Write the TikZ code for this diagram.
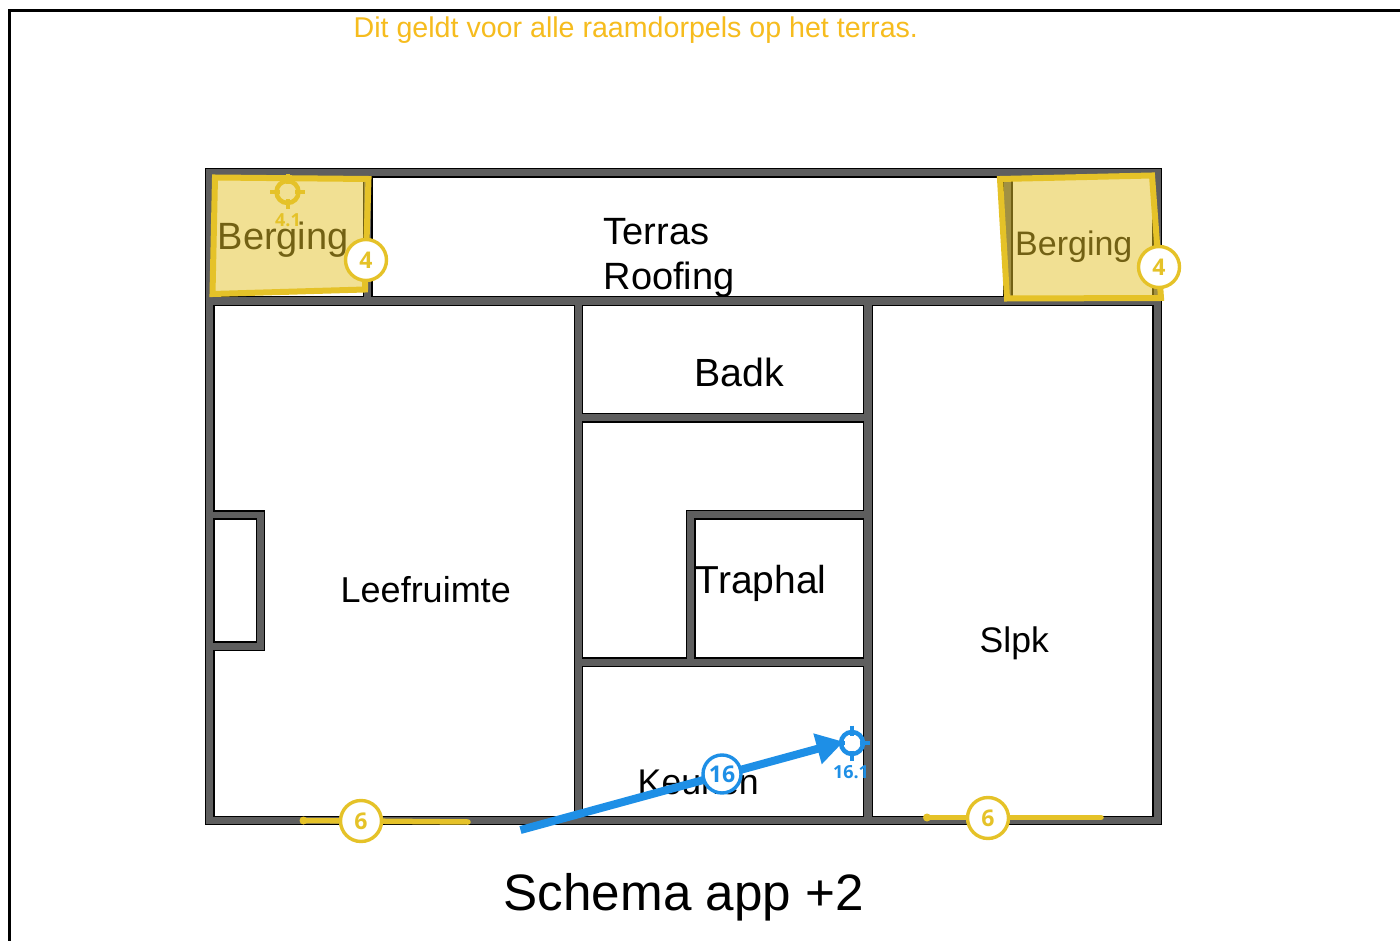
\documentclass[tikz,border=0pt]{standalone}
\usepackage{fontspec}
\setmainfont{Liberation Sans}
\newfontfamily\badgefont{Open Sans}
\usetikzlibrary{arrows.meta}
\definecolor{wallgray}{HTML}{5E5E5E}
\definecolor{markyellow}{HTML}{E5C228}
\definecolor{noteorange}{HTML}{F6BC1E}
\definecolor{markblue}{HTML}{1E8FE6}
\tikzset{
  x=1pt,y=-1pt,
  wall/.style={fill=wallgray,draw=black,line width=1.3pt},
  room/.style={fill=white,draw=black,line width=1.3pt,line join=miter},
  lab/.style={anchor=base west,inner sep=0pt,text=black},
  zone/.style={fill=markyellow,fill opacity=.5,draw=markyellow,draw opacity=1,line width=6pt,line join=miter},
  badge/.style={circle,fill=white,draw=#1,line width=3.4pt,minimum size=41pt,inner sep=0pt,text=#1,font=\badgefont\bfseries\fontsize{23}{23}\selectfont},
  ringmark/.style={circle,draw=#1,line width=4.5pt,minimum size=22pt,inner sep=0pt},
  tick/.style={draw=#1,line width=4pt},
  marklabel/.style={inner sep=0pt,text=#1,font=\badgefont\bfseries\fontsize{18}{18}\selectfont},
  yline/.style={draw=markyellow,line width=5.5pt,line cap=round},
}
\begin{document}
\begin{tikzpicture}
\useasboundingbox (0,0) rectangle (1400,941);
\fill[white] (0,0) rectangle (1400,941);
% page frame
\draw[black,line width=2.8pt,line join=miter] (9.3,941) -- (9.3,10.8) -- (1400,10.8);
% walls and rooms
\draw[wall] (205.5,168.5) rectangle (1161.5,824.5);
\draw[room] (213.5,177) rectangle (363.5,296.5);
\draw[room] (372,177) rectangle (1003.5,296.5);
\draw[room] (1012,177) rectangle (1153,296.5);
\draw[room] (214,305.5) -- (574.5,305.5) -- (574.5,816.5) -- (214,816.5) -- (214,650.5) -- (264.5,650.5) -- (264.5,511) -- (214,511) -- cycle;
\draw[room] (214,519) rectangle (256.5,642);
\draw[room] (582.5,305.5) rectangle (863.5,413.5);
\draw[room] (582.5,422) -- (863.5,422) -- (863.5,510.5) -- (686.5,510.5) -- (686.5,658) -- (582.5,658) -- cycle;
\draw[room] (695,519) rectangle (863.5,658);
\draw[room] (582.5,666.5) rectangle (863.5,816.5);
\draw[room] (872.5,305.5) rectangle (1153,816.5);
% room labels
\node[lab,font=\fontsize{38}{38}\selectfont] (terras) at (603.5,245) {Terras};
\node[lab,font=\fontsize{38}{38}\selectfont] (roofing) at (603.5,290) {Roofing};
\node[lab,font=\fontsize{38}{38}\selectfont] (bergingL) at (217.5,250) {Berging};
\node[lab,font=\fontsize{34}{34}\selectfont] (bergingR) at (1015,256) {Berging};
\node[lab,font=\fontsize{39.3}{39.3}\selectfont] (badk) at (694.5,386.5) {Badk};
\node[lab,font=\fontsize{39}{39}\selectfont] (traphal) at (695.5,593.5) {Traphal};
\node[lab,font=\fontsize{36}{36}\selectfont] (leef) at (340.5,602) {Leefruimte};
\node[lab,font=\fontsize{35.5}{35.5}\selectfont] (slpk) at (979.5,652) {Slpk};
\node[lab,font=\fontsize{35.7}{35.7}\selectfont] (keuken) at (637.5,794) {Keuken};
\node[lab,font=\fontsize{51.2}{51.2}\selectfont] (title) at (503.5,910) {Schema app +2};
\node[lab,text=noteorange,font=\fontsize{28.6}{28.6}\selectfont] (note) at (353.5,38) {Dit geldt voor alle raamdorpels op het terras.};
% yellow zones
\draw[zone] (215,177.5) -- (368.5,179) -- (365,289.5) -- (212.5,294) -- cycle;
\draw[zone] (1000,179) -- (1152,175.5) -- (1161,298) -- (1007,298.5) -- cycle;
% crosshair 4.1
\node[ringmark=markyellow] (cross4) at (287.5,192) {};
\draw[tick=markyellow] (270,192) -- (280,192) (295,192) -- (305,192) (287.5,174.5) -- (287.5,184.5) (287.5,199.5) -- (287.5,209.5);
\node[marklabel=markyellow] (lab41) at (288,220) {4.1};
% yellow lines
\coordinate (l6a) at (303.5,820.5);
\coordinate (l6b) at (468,822);
\coordinate (r6a) at (927,817.5);
\coordinate (r6b) at (1101,817.5);
\draw[yline] (l6a) -- (l6b);
\draw[yline] (r6a) -- (r6b);
\fill[markyellow] (l6a) circle (4pt) (r6a) circle (4pt);
% blue crosshair and arrow
\node[ringmark=markblue] (cross16) at (852,743) {};
\draw[tick=markblue] (834.5,743) -- (844.5,743) (859.5,743) -- (869.5,743) (852,725.5) -- (852,735.5) (852,750.5) -- (852,760.5);
\node[marklabel=markblue] (lab161) at (851,772) {16.1};
\coordinate (arrowstart) at (520.5,830);
\draw[draw=markblue,line width=8pt,shorten >=-5pt,-{Triangle[length=27pt,width=30pt,fill=markblue]}] (arrowstart) -- (cross16.west);
% badges
\node[badge=markyellow] (b4L) at (366,260) {4};
\node[badge=markyellow] (b4R) at (1159,267) {4};
\node[badge=markyellow] (b6L) at (361,821) {6};
\node[badge=markyellow] (b6R) at (988,818) {6};
\node[badge=markblue,minimum size=38pt] (b16) at (722,774) {16};
\end{tikzpicture}
\end{document}
